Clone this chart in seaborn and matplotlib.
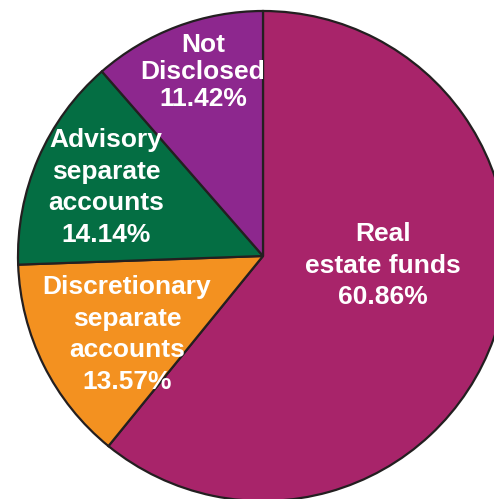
import matplotlib
matplotlib.use('Agg')
import matplotlib.pyplot as plt
import seaborn as sns

# --- Datos ---
categories = ['Real\nestate funds', 'Discretionary\nseparate\naccounts',
              'Advisory\nseparate\naccounts', 'Not\nDisclosed']
shares = [60.86, 13.57, 14.14, 11.42]
colors = ['#A8246A', '#F39120', '#046E43', '#8D278E']

# posicion de cada etiqueta (coordenadas del pastel, radio 1)
label_x = [0.49, -0.555, -0.64, -0.245]
label_y = [-0.04, -0.32, 0.28, 0.75]
label_spacing = [1.4, 1.4, 1.4, 1.17]

sns.set_theme(style='white')
plt.rcParams['font.family'] = ['Liberation Sans', 'DejaVu Sans']

fig = plt.figure(figsize=(4.94, 4.99), dpi=100)
ax = fig.add_axes([18 / 494, -2 / 499, 490 / 494, 490 / 499])

ax.pie(shares, colors=sns.color_palette(colors), startangle=90, counterclock=False,
       radius=1, wedgeprops=dict(edgecolor='#231F20', linewidth=1.6))

for cat, val, x, y, ls in zip(categories, shares, label_x, label_y, label_spacing):
    ax.text(x, y, f'{cat}\n{val:.2f}%', ha='center', va='center', color='white',
            fontsize=19, fontweight='bold', linespacing=ls)

ax.set_xlim(-1, 1)
ax.set_ylim(-1, 1)
ax.set_aspect('equal')
ax.axis('off')

fig.savefig('out.png', dpi=100)
